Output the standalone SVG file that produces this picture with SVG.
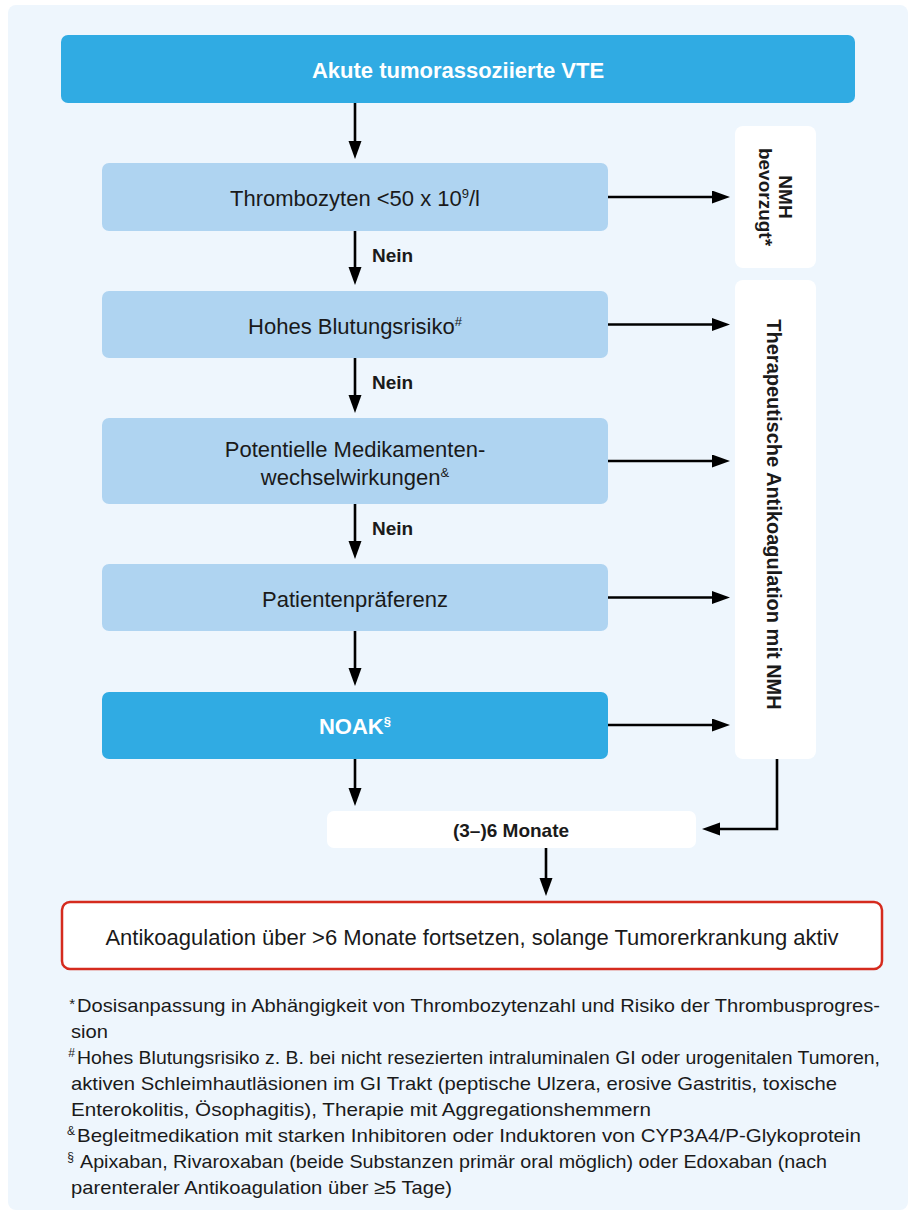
<svg xmlns="http://www.w3.org/2000/svg" width="914" height="1216" viewBox="0 0 914 1216">
<style>
text{font-family:"Liberation Sans",Arial,sans-serif;fill:#1a1a1a}
.t{font-size:22px}
.b{font-weight:bold}
.w{fill:#fff}
.c{text-anchor:middle}
.lb{fill:#afd4f1}
.db{fill:#30abe3}
.wh{fill:#fff}
.ln{fill:none;stroke:#000;stroke-width:2.6;marker-end:url(#ah)}
.fn{font-size:19px}
.sup{font-size:12px}
.star{font-size:15px}
</style>
<defs>
<marker id="ah" markerUnits="userSpaceOnUse" markerWidth="20" markerHeight="14" refX="8" refY="6.5" orient="auto">
<path d="M0,0 L18,6.5 L0,13 z" fill="#000"/>
</marker>
</defs>
<rect x="0" y="0" width="914" height="1216" fill="#fff"/>
<rect x="8" y="5" width="900" height="1205" rx="8" fill="#eef6fd"/>

<g id="connectors">
<path class="ln" d="M355,102 V149"/>
<path class="ln" d="M355,231 V275"/>
<path class="ln" d="M355,358 V403"/>
<path class="ln" d="M355,504 V549"/>
<path class="ln" d="M355,631 V676"/>
<path class="ln" d="M355,759 V796"/>
<path class="ln" d="M546,848 V886"/>
<path class="ln" d="M608,197 H720"/>
<path class="ln" d="M608,324.5 H720"/>
<path class="ln" d="M608,461 H720"/>
<path class="ln" d="M608,597.5 H720"/>
<path class="ln" d="M608,725 H720"/>
<path class="ln" d="M777,759 V829 H712"/>
<text class="b" x="372" y="262" font-size="19">Nein</text>
<text class="b" x="372" y="389" font-size="19">Nein</text>
<text class="b" x="372" y="535" font-size="19">Nein</text>
</g>

<g id="start">
<rect class="db" x="61" y="35" width="794" height="68" rx="7"/>
<text class="t b w c" x="458" y="78">Akute tumorassoziierte VTE</text>
</g>

<g id="thrombozyten">
<rect class="lb" x="102" y="163" width="506" height="68" rx="7"/>
<text class="t c" x="355" y="206">Thrombozyten &lt;50 x 10<tspan font-size="13" dy="-8">9</tspan><tspan dy="8">/l</tspan></text>
</g>

<g id="blutungsrisiko">
<rect class="lb" x="102" y="291" width="506" height="67" rx="7"/>
<text class="t c" x="355" y="334">Hohes Blutungsrisiko<tspan font-size="13" dy="-8">#</tspan></text>
</g>

<g id="wechselwirkungen">
<rect class="lb" x="102" y="418" width="506" height="86" rx="7"/>
<text class="t c" x="355" y="457">Potentielle Medikamenten-</text>
<text class="t c" x="355" y="485">wechselwirkungen<tspan font-size="13" dy="-8">&amp;</tspan></text>
</g>

<g id="praeferenz">
<rect class="lb" x="102" y="564" width="506" height="67" rx="7"/>
<text class="t c" x="355" y="607">Patientenpräferenz</text>
</g>

<g id="noak">
<rect class="db" x="102" y="692" width="506" height="67" rx="7"/>
<text class="t b w c" x="355" y="734">NOAK<tspan font-size="13" dy="-8">§</tspan></text>
</g>

<g id="nmh-bevorzugt">
<rect class="wh" x="735" y="126" width="81" height="142" rx="8"/>
<text class="b c" font-size="19" transform="translate(779,197) rotate(90)" x="0" y="0">NMH</text>
<text class="b c" font-size="19" transform="translate(759,197) rotate(90)" x="0" y="0">bevorzugt*</text>
</g>

<g id="therapeutische-antikoagulation">
<rect class="wh" x="735" y="280" width="81" height="479" rx="8"/>
<text class="b c" font-size="20" transform="translate(767,514.5) rotate(90)" x="0" y="0">Therapeutische Antikoagulation mit NMH</text>
</g>

<g id="monate">
<rect class="wh" x="327" y="811" width="369" height="37" rx="7"/>
<text class="b c" font-size="19" x="511" y="837">(3–)6 Monate</text>
</g>

<g id="fortsetzen">
<rect x="62" y="902" width="820" height="67" rx="8" fill="#fff" stroke="#d52b1e" stroke-width="2.5"/>
<text class="t c" x="472" y="945">Antikoagulation über &gt;6 Monate fortsetzen, solange Tumorerkrankung aktiv</text>
</g>

<g id="footnotes">
<text class="star" x="75" y="1009" text-anchor="end">*</text>
<text class="fn" x="77" y="1012" textLength="803" lengthAdjust="spacingAndGlyphs">Dosisanpassung in Abhängigkeit von Thrombozytenzahl und Risiko der Thrombusprogres-</text>
<text class="fn" x="71" y="1038" textLength="37" lengthAdjust="spacingAndGlyphs">sion</text>
<text class="sup" x="75" y="1057" text-anchor="end">#</text>
<text class="fn" x="77" y="1064" textLength="803" lengthAdjust="spacingAndGlyphs">Hohes Blutungsrisiko z. B. bei nicht resezierten intraluminalen GI oder urogenitalen Tumoren,</text>
<text class="fn" x="71" y="1090" textLength="766" lengthAdjust="spacingAndGlyphs">aktiven Schleimhautläsionen im GI Trakt (peptische Ulzera, erosive Gastritis, toxische</text>
<text class="fn" x="71" y="1116" textLength="580" lengthAdjust="spacingAndGlyphs">Enterokolitis, Ösophagitis), Therapie mit Aggregationshemmern</text>
<text class="sup" x="75" y="1135" text-anchor="end">&amp;</text>
<text class="fn" x="77" y="1142" textLength="784" lengthAdjust="spacingAndGlyphs">Begleitmedikation mit starken Inhibitoren oder Induktoren von CYP3A4/P-Glykoprotein</text>
<text class="sup" x="74" y="1161" text-anchor="end">§</text>
<text class="fn" x="80" y="1168" textLength="747" lengthAdjust="spacingAndGlyphs">Apixaban, Rivaroxaban (beide Substanzen primär oral möglich) oder Edoxaban (nach</text>
<text class="fn" x="71" y="1194" textLength="381" lengthAdjust="spacingAndGlyphs">parenteraler Antikoagulation über ≥5 Tage)</text>
</g>
</svg>
